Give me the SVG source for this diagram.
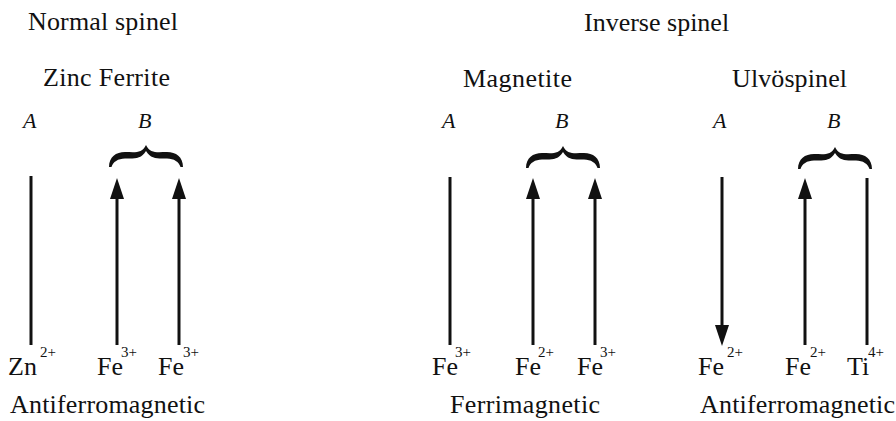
<svg xmlns="http://www.w3.org/2000/svg" width="896" height="421" viewBox="0 0 896 421">
<style>
text{font-family:"Liberation Serif","Times New Roman",serif;fill:#111}
.t{font-size:26px}
.s{font-size:15px}
.ab{font-size:22px;font-style:italic}
.spin{stroke:#111;stroke-width:3;fill:none}
.brace{fill:#111}
</style>
<defs>
<marker id="head" markerUnits="userSpaceOnUse" markerWidth="22" markerHeight="16" viewBox="0 0 22 16" refX="0" refY="8" orient="auto">
<path d="M0,1 L21,8 L0,15 Z" fill="#111"/>
</marker>
<path id="br" d="M-37,22 C-37,12 -30,7 -21,7 C-12,7 -4,9 0,0 C4,9 12,7 21,7 C30,7 37,12 37,22 L34.5,22 C33,17 28,13.5 21,13.5 C12,13.5 5,14.5 0,6 C-5,14.5 -12,13.5 -21,13.5 C-28,13.5 -33,17 -34.5,22 Z"/>
</defs>

<g id="titles">
<text class="t" x="28" y="30" textLength="150">Normal spinel</text>
<text class="t" x="584" y="31">Inverse spinel</text>
</g>

<g id="zinc-ferrite">
<text class="t" x="43" y="86" textLength="127">Zinc Ferrite</text>
<text class="ab" x="23" y="128">A</text>
<text class="ab" x="138" y="128">B</text>
<use href="#br" class="brace" transform="translate(146,145)"/>
<text class="t" x="8" y="375">Zn</text><text class="s" x="40" y="357">2+</text>
<text class="t" x="97" y="375">Fe</text><text class="s" x="121" y="357">3+</text>
<text class="t" x="158" y="375">Fe</text><text class="s" x="183" y="357">3+</text>
<text class="t" x="10" y="413" textLength="195">Antiferromagnetic</text>
</g>

<g id="magnetite">
<text class="t" x="463" y="87" textLength="109">Magnetite</text>
<text class="ab" x="442" y="128">A</text>
<text class="ab" x="555" y="128">B</text>
<use href="#br" class="brace" transform="translate(563,146)"/>
<text class="t" x="432" y="375">Fe</text><text class="s" x="455" y="357">3+</text>
<text class="t" x="515" y="375">Fe</text><text class="s" x="538" y="357">2+</text>
<text class="t" x="577" y="375">Fe</text><text class="s" x="600" y="357">3+</text>
<text class="t" x="450" y="413" textLength="150">Ferrimagnetic</text>
</g>

<g id="ulvospinel">
<text class="t" x="732" y="87" textLength="115">Ulvöspinel</text>
<text class="ab" x="713" y="128">A</text>
<text class="ab" x="827" y="128">B</text>
<use href="#br" class="brace" transform="translate(835,147)"/>
<text class="t" x="698" y="375">Fe</text><text class="s" x="727" y="357">2+</text>
<text class="t" x="785" y="375">Fe</text><text class="s" x="810" y="357">2+</text>
<text class="t" x="847" y="375">Ti</text><text class="s" x="868" y="357">4+</text>
<text class="t" x="700" y="413" textLength="195">Antiferromagnetic</text>
</g>

<g id="spins">
<line class="spin" x1="31" y1="176" x2="31" y2="345"/>
<line class="spin" x1="117" y1="345" x2="117" y2="199" marker-end="url(#head)"/>
<line class="spin" x1="179" y1="345" x2="179" y2="199" marker-end="url(#head)"/>
<line class="spin" x1="450" y1="177" x2="450" y2="345"/>
<line class="spin" x1="533" y1="345" x2="533" y2="199" marker-end="url(#head)"/>
<line class="spin" x1="595" y1="345" x2="595" y2="199" marker-end="url(#head)"/>
<line class="spin" x1="722" y1="177" x2="722" y2="325" marker-end="url(#head)"/>
<line class="spin" x1="805" y1="345" x2="805" y2="199" marker-end="url(#head)"/>
<line class="spin" x1="867" y1="178" x2="867" y2="345"/>
</g>
</svg>
